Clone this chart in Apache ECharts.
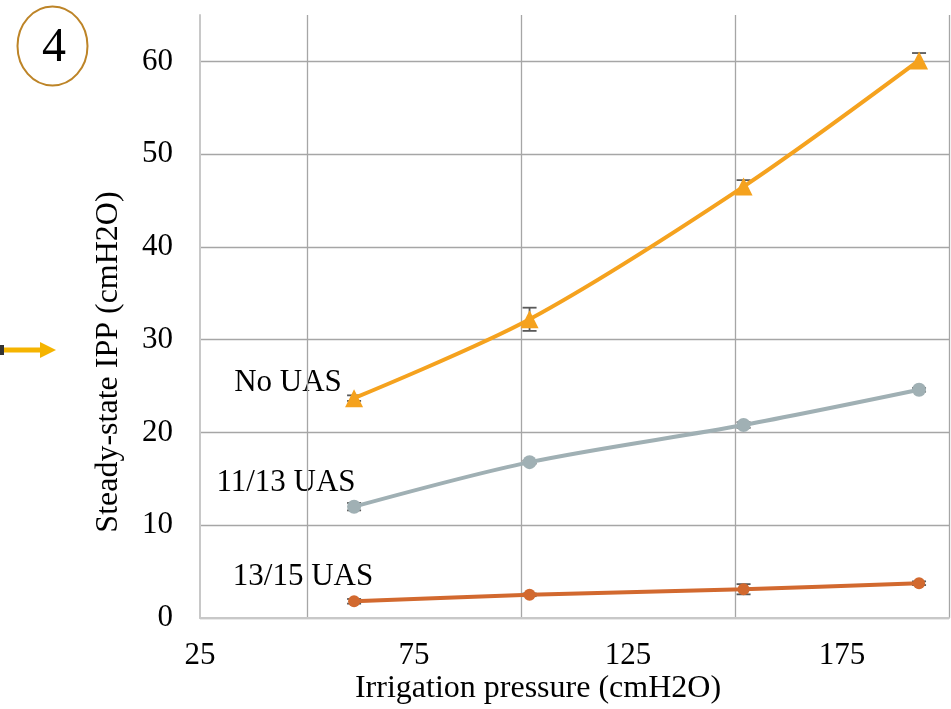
<!DOCTYPE html>
<html>
<head>
<meta charset="utf-8">
<script src="https://cdn.jsdelivr.net/npm/echarts@6/dist/echarts.min.js"></script>
<style>html,body{margin:0;padding:0;background:#fff;}#c{width:951px;height:709px;}</style>
</head>
<body>
<div id="c"></div>
<script>
// ---- data ----
const xValues = [61, 102, 152, 193];
const seriesNames = ['No UAS', '11/13 UAS', '13/15 UAS'];
const noUAS = [23.7, 32.2, 46.5, 60.1];
const uas1113 = [12.0, 16.8, 20.8, 24.6];
const uas1315 = [1.8, 2.5, 3.1, 3.75];
const errNoUAS = [0.3, 1.25, 0.7, 0.8];
const err1113 = [0.4, 0.15, 0.3, 0.2];
const err1315 = [0.25, 0.15, 0.55, 0.2];
const xTickLabels = [25, 75, 125, 175];
const yTickLabels = [0, 10, 20, 30, 40, 50, 60];
const xTitle = 'Irrigation pressure (cmH2O)';
const yTitle = 'Steady-state IPP (cmH2O)';
const panelLabel = '4';

const FONT = "'Liberation Serif', 'Times New Roman', serif";
const GRID = '#a6a6a6';
const colors = ['#f5a21e', '#a0b0b4', '#d2692f'];
const symbols = ['triangle', 'circle', 'circle'];
const symbolSizes = [18, 14, 12];

const chart = echarts.init(document.getElementById('c'), null, {renderer: 'canvas'});

function pts(vals) { return xValues.map((x, i) => [x, vals[i]]); }
function errPts(vals, errs) { return xValues.map((x, i) => [x, vals[i] - errs[i], vals[i] + errs[i]]); }

function errRender(params, api) {
  const x = api.value(0), lo = api.value(1), hi = api.value(2);
  const a = api.coord([x, lo]), b = api.coord([x, hi]);
  const w = 7;
  const st = {stroke: '#595959', lineWidth: 1.8};
  return {type: 'group', children: [
    {type: 'line', shape: {x1: a[0], y1: a[1], x2: b[0], y2: b[1]}, style: st},
    {type: 'line', shape: {x1: a[0] - w, y1: a[1], x2: a[0] + w, y2: a[1]}, style: st},
    {type: 'line', shape: {x1: b[0] - w, y1: b[1], x2: b[0] + w, y2: b[1]}, style: st}
  ]};
}

const lineVals = [noUAS, uas1113, uas1315];
const errVals = [errNoUAS, err1113, err1315];

const series = [];
lineVals.forEach((v, k) => {
  series.push({
    type: 'custom', name: seriesNames[k] + ' err', renderItem: errRender,
    data: errPts(v, errVals[k]), z: 3, silent: true
  });
});
lineVals.forEach((v, k) => {
  series.push({
    type: 'line', name: seriesNames[k], data: pts(v), smooth: 0.3,
    symbol: symbols[k], symbolSize: symbolSizes[k],
    lineStyle: {color: colors[k], width: 4},
    itemStyle: {color: colors[k]}, z: 4
  });
});

const xTickColors = [];
for (let v = 25; v <= 200; v += 25) xTickColors.push(xTickLabels.indexOf(v) >= 0 ? 'rgba(0,0,0,0)' : GRID);
const yTickColors = [];
for (let v = 0; v <= 60; v += 10) yTickColors.push(GRID);
yTickColors.push('rgba(0,0,0,0)');

chart.setOption({
  animation: false,
  backgroundColor: '#fff',
  grid: {left: 200, right: 2, top: 15, bottom: 91, containLabel: false},
  xAxis: {
    type: 'value', min: 25, max: 200, interval: 25,
    axisLine: {show: true, lineStyle: {color: '#c8c8c8', width: 2}},
    axisTick: {show: false},
    axisLabel: {
      margin: 22, color: '#000', fontFamily: FONT, fontSize: 31,
      showMaxLabel: false,
      formatter: v => (xTickLabels.indexOf(v) >= 0 ? String(v) : '')
    },
    splitLine: {show: true, lineStyle: {color: xTickColors, width: 1.3}}
  },
  yAxis: {
    type: 'value', min: 0, max: 65, interval: 10,
    axisLine: {show: true, lineStyle: {color: '#c8c8c8', width: 2}},
    axisTick: {show: false},
    axisLabel: {
      margin: 27, color: '#000', fontFamily: FONT, fontSize: 31,
      showMaxLabel: false,
      formatter: v => (yTickLabels.indexOf(v) >= 0 ? String(v) : '')
    },
    splitLine: {show: true, lineStyle: {color: yTickColors, width: 1.3}}
  },
  series: series,
  graphic: [
    {type: 'ellipse', shape: {cx: 52.5, cy: 46, rx: 35, ry: 39.5},
     style: {fill: 'none', stroke: '#bd8427', lineWidth: 2}},
    {type: 'text', x: 54, y: 48, style: {text: panelLabel, font: '48px ' + FONT, fill: '#000',
     align: 'center', verticalAlign: 'middle'}},
    {type: 'line', shape: {x1: 0, y1: 350, x2: 42, y2: 350},
     style: {stroke: '#f5b400', lineWidth: 5}},
    {type: 'polygon', shape: {points: [[40, 342], [56, 350], [40, 358]]},
     style: {fill: '#f5b400'}},
    {type: 'rect', shape: {x: 0, y: 345, width: 4, height: 10}, style: {fill: '#333'}},
    {type: 'text', x: 109, y: 362, rotation: Math.PI / 2,
     style: {text: yTitle, font: '32px ' + FONT, fill: '#000', align: 'center', verticalAlign: 'middle'}},
    {type: 'text', x: 538, y: 689,
     style: {text: xTitle, font: '32px ' + FONT, fill: '#000', align: 'center', verticalAlign: 'middle'}},
    {type: 'text', x: 288, y: 383,
     style: {text: seriesNames[0], font: '31px ' + FONT, fill: '#000', align: 'center', verticalAlign: 'middle'}},
    {type: 'text', x: 286, y: 483,
     style: {text: seriesNames[1], font: '31px ' + FONT, fill: '#000', align: 'center', verticalAlign: 'middle'}},
    {type: 'text', x: 303, y: 577,
     style: {text: seriesNames[2], font: '31px ' + FONT, fill: '#000', align: 'center', verticalAlign: 'middle'}}
  ]
});
</script>
</body>
</html>
